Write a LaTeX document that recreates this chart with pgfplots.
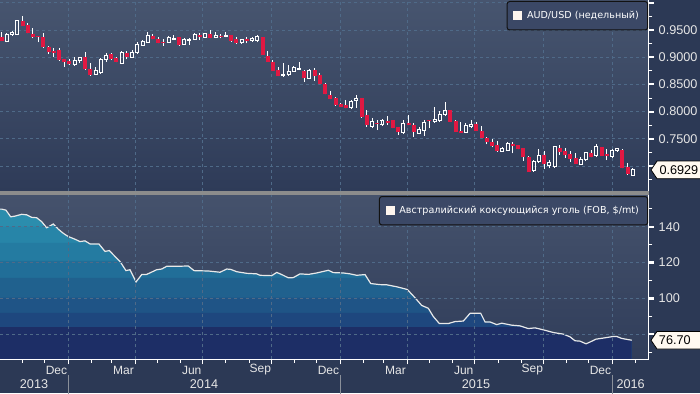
\documentclass[border=0pt]{standalone}
\usepackage{pgfplots}
\pgfplotsset{compat=1.18}
\usepackage{pgfplotstable}
\usepackage{fontspec}
\setmainfont{Liberation Sans}
\newfontfamily\legfont{DejaVu Sans}

\definecolor{pagebg}{HTML}{2C3955}
\definecolor{gridc}{HTML}{4F6A88}
\definecolor{candred}{HTML}{E11842}
\definecolor{tickc}{HTML}{E6E6E6}
\definecolor{sepgray}{HTML}{8C8C8C}
\definecolor{legbg}{HTML}{3B4866}
\definecolor{legbd}{HTML}{121212}
\definecolor{legsq}{HTML}{FDF5EE}
\definecolor{labfill}{HTML}{FFF9F0}
\definecolor{yearsep}{HTML}{8A909A}
\definecolor{coalline}{HTML}{E8E8E8}
\definecolor{topbgA}{HTML}{47556F}
\definecolor{topbgB}{HTML}{2E3B58}
\definecolor{botbgA}{HTML}{45526C}
\definecolor{botbgB}{HTML}{303D5A}
\definecolor{a1}{HTML}{2B8DAD}
\definecolor{a2}{HTML}{2785A8}
\definecolor{a3}{HTML}{247BA1}
\definecolor{a4}{HTML}{216E98}
\definecolor{a5}{HTML}{20618E}
\definecolor{a6}{HTML}{1F5486}
\definecolor{a7}{HTML}{1E477E}
\definecolor{a8}{HTML}{1D2E66}

% weekly candles, x = days since 1 Oct 2013
\pgfplotstableread{
d o h l c
10 0.9298 0.9450 0.9274 0.9421
17 0.9426 0.9487 0.9395 0.9458
24 0.9421 0.9684 0.9408 0.9671
101 0.8870 0.8998 0.8844 0.8949
108 0.8936 0.9009 0.8888 0.8998
129 0.8691 0.8814 0.8673 0.8765
136 0.8715 0.8991 0.8704 0.8961
143 0.8961 0.9072 0.8917 0.9040
164 0.8888 0.9114 0.8875 0.9090
178 0.8998 0.9132 0.8998 0.9083
185 0.9083 0.9285 0.9072 0.9243
192 0.9224 0.9316 0.9211 0.9298
199 0.9274 0.9458 0.9267 0.9395
227 0.9274 0.9390 0.9267 0.9366
234 0.9331 0.9408 0.9331 0.9347
248 0.9237 0.9347 0.9224 0.9329
255 0.9303 0.9347 0.9224 0.9335
262 0.9329 0.9450 0.9329 0.9426
276 0.9366 0.9445 0.9360 0.9439
290 0.9366 0.9458 0.9347 0.9408
304 0.9390 0.9469 0.9366 0.9408
325 0.9267 0.9335 0.9256 0.9329
339 0.9303 0.9377 0.9285 0.9347
346 0.9303 0.9408 0.9274 0.9377
381 0.8660 0.8888 0.8654 0.8686
388 0.8686 0.8857 0.8660 0.8746
395 0.8746 0.8838 0.8734 0.8807
402 0.8778 0.8906 0.8765 0.8796
416 0.8612 0.8783 0.8599 0.8765
472 0.8072 0.8213 0.8048 0.8195
479 0.8213 0.8305 0.8072 0.8245
500 0.7723 0.7877 0.7693 0.7814
514 0.7767 0.7864 0.7735 0.7833
542 0.7620 0.7846 0.7588 0.7785
563 0.7607 0.7717 0.7588 0.7675
570 0.7662 0.7846 0.7552 0.7796
584 0.7814 0.8079 0.7803 0.7859
591 0.7833 0.8017 0.7803 0.7938
598 0.7938 0.8171 0.7919 0.8029
626 0.7620 0.7791 0.7607 0.7741
633 0.7723 0.7846 0.7704 0.7772
675 0.7276 0.7355 0.7263 0.7326
682 0.7294 0.7447 0.7276 0.7418
717 0.6914 0.7110 0.6896 0.7092
724 0.7079 0.7313 0.7068 0.7202
738 0.7006 0.7110 0.6958 0.7068
745 0.6987 0.7373 0.6976 0.7355
780 0.7037 0.7171 0.7019 0.7129
787 0.7129 0.7263 0.7092 0.7245
801 0.7190 0.7399 0.7171 0.7355
822 0.7171 0.7313 0.7160 0.7294
829 0.7294 0.7337 0.7263 0.7326
850 0.6835 0.6958 0.6835 0.6929
}\upc

\pgfplotstableread{
d o h l c
3 0.9366 0.9463 0.9298 0.9303
31 0.9665 0.9757 0.9579 0.9579
38 0.9592 0.9623 0.9439 0.9439
45 0.9426 0.9531 0.9347 0.9377
52 0.9395 0.9395 0.9274 0.9377
59 0.9366 0.9439 0.9164 0.9182
66 0.9182 0.9206 0.9059 0.9101
73 0.9108 0.9164 0.8998 0.9083
80 0.9132 0.9164 0.8936 0.8949
87 0.8961 0.8961 0.8825 0.8917
94 0.8936 0.8961 0.8857 0.8870
115 0.8998 0.9101 0.8765 0.8778
122 0.8783 0.8888 0.8660 0.8673
150 0.9059 0.9083 0.8949 0.8967
157 0.8991 0.9009 0.8906 0.8917
171 0.9072 0.9120 0.8961 0.9009
206 0.9395 0.9426 0.9329 0.9329
213 0.9329 0.9377 0.9256 0.9267
220 0.9285 0.9329 0.9211 0.9267
241 0.9366 0.9366 0.9211 0.9224
269 0.9408 0.9450 0.9316 0.9377
283 0.9426 0.9500 0.9347 0.9358
297 0.9395 0.9426 0.9347 0.9377
311 0.9408 0.9408 0.9285 0.9303
318 0.9329 0.9377 0.9243 0.9256
332 0.9329 0.9366 0.9256 0.9298
353 0.9366 0.9377 0.9040 0.9040
360 0.9022 0.9120 0.8917 0.8917
367 0.8917 0.8949 0.8752 0.8752
374 0.8765 0.8825 0.8654 0.8654
409 0.8746 0.8765 0.8550 0.8612
423 0.8765 0.8796 0.8563 0.8660
430 0.8673 0.8704 0.8502 0.8502
437 0.8502 0.8520 0.8318 0.8318
444 0.8305 0.8379 0.8232 0.8232
451 0.8256 0.8274 0.8109 0.8121
458 0.8134 0.8153 0.8090 0.8090
465 0.8121 0.8213 0.8061 0.8072
486 0.8245 0.8256 0.7888 0.7906
493 0.7938 0.8029 0.7723 0.7754
507 0.7791 0.7846 0.7662 0.7772
521 0.7833 0.7919 0.7754 0.7796
528 0.7846 0.7846 0.7699 0.7704
535 0.7712 0.7717 0.7570 0.7620
549 0.7785 0.7938 0.7754 0.7754
556 0.7754 0.7785 0.7539 0.7631
577 0.7846 0.7846 0.7693 0.7827
605 0.8029 0.8029 0.7809 0.7814
612 0.7827 0.7846 0.7631 0.7631
619 0.7644 0.7814 0.7612 0.7612
640 0.7772 0.7803 0.7649 0.7649
647 0.7644 0.7741 0.7509 0.7520
654 0.7509 0.7539 0.7399 0.7447
661 0.7447 0.7497 0.7344 0.7373
668 0.7386 0.7460 0.7263 0.7281
689 0.7399 0.7436 0.7234 0.7368
696 0.7386 0.7386 0.7307 0.7307
703 0.7326 0.7337 0.7092 0.7171
710 0.7171 0.7190 0.6896 0.6896
731 0.7202 0.7276 0.6945 0.7031
752 0.7337 0.7386 0.7202 0.7263
759 0.7281 0.7326 0.7153 0.7202
766 0.7215 0.7281 0.7079 0.7129
773 0.7153 0.7234 0.7037 0.7037
794 0.7245 0.7294 0.7160 0.7171
808 0.7355 0.7355 0.7190 0.7190
815 0.7215 0.7307 0.7110 0.7184
836 0.7294 0.7307 0.6958 0.6958
843 0.6987 0.7050 0.6835 0.6848
}\dnc

\pgfplotstableread{
d v
0.75 149.8
3.0 149.8
8.8 149.2
15.1 145.5
20.9 145.9
29.9 146.9
36.6 146.6
43.3 145.2
50.0 145.0
56.7 142.8
63.4 139.4
72.3 141.5
79.0 138.6
85.7 136.3
92.4 134.5
101.4 133.0
108.1 131.7
114.8 132.1
121.5 130.4
133.6 130.3
141.7 126.2
147.4 126.7
155.1 123.4
161.8 120.6
169.8 115.5
175.2 116.0
183.3 109.2
190.9 113.3
197.6 113.4
211.0 116.0
217.7 116.4
224.4 117.9
237.9 117.9
253.4 118.1
261.1 115.5
280.3 115.3
296.0 114.6
305.0 116.4
310.3 116.2
318.4 114.9
331.8 114.0
345.2 113.7
349.6 112.9
365.3 112.7
372.1 114.5
378.8 113.3
387.6 111.5
394.3 111.6
403.3 113.7
414.5 113.4
425.7 114.2
441.3 115.7
448.0 114.4
461.4 114.2
470.4 113.7
479.4 112.9
490.6 113.3
498.2 108.3
510.7 107.7
519.7 107.6
533.1 106.5
547.3 105.0
557.6 100.4
566.6 96.1
575.5 94.5
582.2 89.9
590.3 86.0
602.3 86.0
611.3 87.1
622.5 87.4
631.5 91.7
645.8 91.7
651.6 86.9
658.3 86.9
667.3 85.4
674.0 86.2
687.4 85.1
698.5 84.7
709.7 83.2
718.7 83.6
729.8 82.5
743.2 81.0
756.7 80.1
765.6 78.6
772.3 76.4
779.0 76.2
787.1 74.7
792.5 75.7
800.5 77.3
810.3 77.9
823.8 78.8
828.3 78.8
835.0 77.7
848.4 76.7
}\coal

\tikzset{
  mlab/.style={font=\fontsize{9}{10}\selectfont, text=tickc, anchor=center, inner sep=0pt, yshift=-7.9pt},
  ylab/.style={font=\fontsize{9.5}{11}\selectfont, text=tickc, anchor=center, inner sep=0pt, yshift=-18.4pt},
  vlab/.style={anchor=west, inner sep=0pt, font=\fontsize{9.5}{11}\selectfont, text=black},
}
\pgfplotsset{
  panel/.style={
    scale only axis, width=486.75pt, xmin=0.75, xmax=871.6,
    clip mode=individual,
    axis y line*=right, axis x line*=bottom,
    xtick={92,182,273,365,457,547,638,730,822}, xticklabels={},
    xmajorgrids, ymajorgrids,
    grid style={gridc, line width=0.75pt, dash pattern=on 2.25pt off 2.25pt},
    tick align=outside,
    major tick length=3.75pt, minor tick length=2.6pt,
    y axis line style={white, line width=0.75pt},
    ytick style={white, line width=0.75pt},
    major y tick style={line width=1.6pt},
    yticklabel style={font=\fontsize{9.5}{11}\selectfont, text=tickc},
    legend cell align=left,
    legend style={at={(1,1)}, anchor=north east, xshift=-0.6pt, yshift=-0.75pt,
      draw=legbd, fill=legbg, rounded corners=2pt, line width=0.75pt,
      font=\legfont\fontsize{7.2}{8.6}\selectfont, text=white,
      inner xsep=4.6pt, inner ysep=5.2pt},
  },
  wk/.style={forget plot, no markers, white, line width=0.75pt},
  legsquare/.style={legend image code/.code={\fill[legsq, sharp corners] (0pt,-3pt) rectangle (6pt,3pt); \path (7.6pt,0pt);}},
}

\begin{document}
\begin{tikzpicture}
\path[use as bounding box, fill=pagebg] (0,0) rectangle (525pt,294.75pt);
\fill[sepgray] (0,148.5pt) rectangle (486.75pt,151.5pt);

% ---------------- top panel: AUD/USD weekly candles
\begin{axis}[panel,
  at={(0pt,151.5pt)}, anchor=south west, height=143.25pt,
  ymin=0.6541, ymax=1.0052,
  axis background/.style={top color=topbgA, bottom color=topbgB},
  x axis line style={draw=none}, xtick style={draw=none},
  ytick={0.70,0.75,0.80,0.85,0.90,0.95,1.00},
  yticklabels={,0.7500,0.8000,0.8500,0.9000,0.9500,},
  minor ytick={0.675,0.725,0.775,0.825,0.875,0.925,0.975},
]
% down candles
\addplot[wk, quiver={u=0, v={\thisrow{h}-\thisrow{l}}}] table[x=d, y=l] {\dnc};
\addplot[wk, candred, line width=3pt, quiver={u=0, v={max(\thisrow{o}-\thisrow{c},0.0015)}}] table[x=d, y=c] {\dnc};
% up candles (hollow)
\addplot[wk, quiver={u=0, v={\thisrow{o}-\thisrow{l}}}] table[x=d, y=l] {\upc};
\addplot[wk, quiver={u=0, v={\thisrow{h}-\thisrow{c}}}] table[x=d, y=c] {\upc};
\addplot[wk, quiver={u=0, v={\thisrow{c}-\thisrow{o}}}] table[x expr={\thisrow{d}-2.0}, y=o] {\upc};
\addplot[wk, quiver={u=0, v={\thisrow{c}-\thisrow{o}}}] table[x expr={\thisrow{d}+2.0}, y=o] {\upc};
\addplot[wk, quiver={u=5.37, v=0}] table[x expr={\thisrow{d}-2.685}, y=c] {\upc};
\addplot[wk, quiver={u=5.37, v=0}] table[x expr={\thisrow{d}-2.685}, y=o] {\upc};
\addlegendimage{legsquare}
\addlegendentry{AUD/USD (недельный)}
\coordinate (t1) at (axis cs:871.6,0.6929);
\draw[fill=labfill, draw=black, line width=0.6pt] ([xshift=1.5pt]t1) -- ([xshift=6pt,yshift=6.6pt]t1) -- ([xshift=60pt,yshift=6.6pt]t1) -- ([xshift=60pt,yshift=-6.6pt]t1) -- ([xshift=6pt,yshift=-6.6pt]t1) -- cycle;
\node[vlab] at ([xshift=7.7pt]t1) {0.6929};
\end{axis}

% ---------------- bottom panel: coking coal
\begin{axis}[panel,
  at={(0pt,25.125pt)}, anchor=south west, height=123.375pt,
  ymin=65.96, ymax=157.66, axis on top,
  axis background/.style={top color=botbgA, bottom color=botbgB},
  minor xtick={31,61,123,151,212,243,304,335,396,426,488,516,577,608,669,700,761,791,853},
  x axis line style={white, line width=0.75pt},
  xtick style={white, line width=0.75pt},
  major x tick style={line width=0.75pt},
  ytick={80,100,120,140}, yticklabels={,100,120,140},
  minor ytick={70,90,110,130,150},
]
\addplot[forget plot, draw=none, fill=a1] table[x=d, y=v] {\coal} \closedcycle;
\addplot[forget plot, draw=none, fill=a2] table[x=d, y expr={min(\thisrow{v},140)}] {\coal} \closedcycle;
\addplot[forget plot, draw=none, fill=a3] table[x=d, y expr={min(\thisrow{v},131)}] {\coal} \closedcycle;
\addplot[forget plot, draw=none, fill=a4] table[x=d, y expr={min(\thisrow{v},121)}] {\coal} \closedcycle;
\addplot[forget plot, draw=none, fill=a5] table[x=d, y expr={min(\thisrow{v},111.5)}] {\coal} \closedcycle;
\addplot[forget plot, draw=none, fill=a6] table[x=d, y expr={min(\thisrow{v},100.5)}] {\coal} \closedcycle;
\addplot[forget plot, draw=none, fill=a7] table[x=d, y expr={min(\thisrow{v},92)}] {\coal} \closedcycle;
\addplot[forget plot, draw=none, fill=a8] table[x=d, y expr={min(\thisrow{v},84)}] {\coal} \closedcycle;
\addplot[forget plot, no markers, coalline, line width=0.9pt] table[x=d, y=v] {\coal};
\addlegendimage{legsquare}
\addlegendentry{Австралийский коксующийся уголь (FOB, \$/mt)}
\coordinate (t2) at (axis cs:871.6,76.7);
\draw[fill=labfill, draw=black, line width=0.6pt] ([xshift=1.5pt]t2) -- ([xshift=6pt,yshift=6.6pt]t2) -- ([xshift=60pt,yshift=6.6pt]t2) -- ([xshift=60pt,yshift=-6.6pt]t2) -- ([xshift=6pt,yshift=-6.6pt]t2) -- cycle;
\node[vlab] at ([xshift=7.3pt]t2) {76.70};
% month labels
\node[mlab] at (axis cs:76.5,65.96) {Dec};
\node[mlab] at (axis cs:166.5,65.96) {Mar};
\node[mlab] at (axis cs:258,65.96) {Jun};
\node[mlab] at (axis cs:350,65.96) {Sep};
\node[mlab] at (axis cs:441.5,65.96) {Dec};
\node[mlab] at (axis cs:531.5,65.96) {Mar};
\node[mlab] at (axis cs:623,65.96) {Jun};
\node[mlab] at (axis cs:715,65.96) {Sep};
\node[mlab] at (axis cs:806.5,65.96) {Dec};
% year labels
\node[ylab] at (axis cs:46.4,65.96) {2013};
\node[ylab] at (axis cs:274.5,65.96) {2014};
\node[ylab] at (axis cs:639.5,65.96) {2015};
\node[ylab] at (axis cs:847,65.96) {2016};
% year separators
\draw[yearsep, line width=0.75pt] ([yshift=-11.6pt]axis cs:92,65.96) -- ([yshift=-26pt]axis cs:92,65.96);
\draw[yearsep, line width=0.75pt] ([yshift=-11.6pt]axis cs:457,65.96) -- ([yshift=-26pt]axis cs:457,65.96);
\draw[yearsep, line width=0.75pt] ([yshift=-11.6pt]axis cs:822,65.96) -- ([yshift=-26pt]axis cs:822,65.96);
\end{axis}
\end{tikzpicture}
\end{document}
